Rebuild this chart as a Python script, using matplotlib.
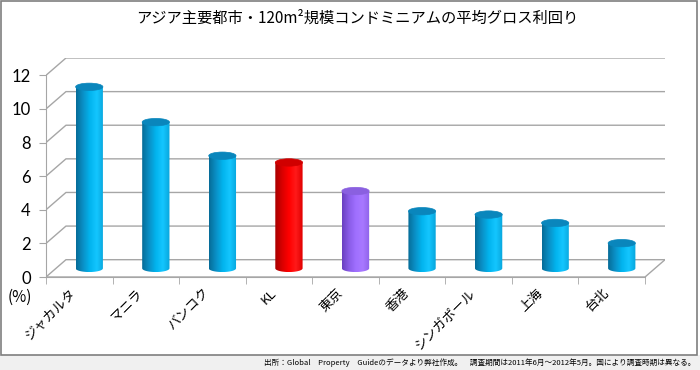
import numpy as np
import matplotlib
matplotlib.use('Agg')
import matplotlib.pyplot as plt
from matplotlib.patches import Ellipse, PathPatch, Rectangle
from matplotlib.path import Path
from matplotlib.colors import to_rgb

# CJK font first, DejaVu as fallback
plt.rcParams['font.family'] = ['Noto Sans CJK JP', 'DejaVu Sans']

# data (%)
cities = ['ジャカルタ', 'マニラ', 'バンコク', 'KL', '東京', '香港', 'シンガポール', '上海', '台北']
yields = [10.8, 8.7, 6.7, 6.3, 4.6, 3.4, 3.2, 2.7, 1.5]
bar_kind = ['blue', 'blue', 'blue', 'red', 'purple', 'blue', 'blue', 'blue', 'blue']
yticks = [0, 2, 4, 6, 8, 10, 12]

title = 'アジア主要都市・120m²規模コンドミニアムの平均グロス利回り'
footer = '出所：Global　Property　Guideのデータより弊社作成。　調査期間は2011年6月～2012年5月。国により調査時期は異なる。'

# left->right colour stops of each cylinder, plus its top cap colour
gradients = {
    'blue': (['#066c98', '#0a90c6', '#02b4ee', '#14c6ff', '#08a6dc'], '#0a86bc'),
    'red': (['#a80000', '#d80000', '#ff0000', '#ff1a1a', '#e00000'], '#d00000'),
    'purple': (['#6a40c0', '#8a5ce8', '#a070ff', '#a878ff', '#8e62ea'], '#8a60e0'),
}

dx, dy = 0.3, 1.03      # depth offset of the back wall (data units)
bw, eh = 0.41, 0.44     # cylinder width and cap ellipse height
grid_c = '#a6a6a6'

fig = plt.figure(figsize=(7, 3.7), dpi=100)
ax = fig.add_axes([46 / 700, 93 / 370, 619 / 700, 219 / 370])
n = len(cities)
ax.patch.set_visible(False)

# back wall grid + side diagonals
for v in yticks:
    ax.plot([0, dx, n + dx], [v, v + dy, v + dy], color=grid_c, lw=1, zorder=1)
ax.plot([0, n, n + dx], [0, 0, dy], color=grid_c, lw=1, zorder=1)

# cylinders
for i, (v, k) in enumerate(zip(yields, bar_kind)):
    cx = i + 0.5 + dx / 2
    y0 = dy / 2
    top = y0 + v
    x_l, x_r = cx - bw / 2, cx + bw / 2
    t = np.linspace(np.pi, 2 * np.pi, 40)
    verts = [(x_l, top)] + list(zip(cx + bw / 2 * np.cos(t), y0 + eh / 2 * np.sin(t))) + [(x_r, top), (x_l, top)]
    body = PathPatch(Path(verts), facecolor='none', edgecolor='none')
    ax.add_patch(body)
    stops, cap = gradients[k]
    rgb = np.array([to_rgb(c) for c in stops])
    xs = np.linspace(0, 1, 64)
    pos = np.linspace(0, 1, len(stops))
    grad = np.stack([np.interp(xs, pos, rgb[:, j]) for j in range(3)], axis=-1)[None, :, :]
    im = ax.imshow(grad, extent=[x_l, x_r, y0 - eh / 2, top], aspect='auto',
                   interpolation='bilinear', zorder=3)
    im.set_clip_path(body)
    ax.add_patch(Ellipse((cx, top), bw, eh, facecolor=cap, edgecolor=cap, lw=0.5, zorder=4))

ax.set_xlim(0, n + dx)
ax.set_ylim(0, yticks[-1] + dy)

# axes
for s in ['top', 'right']:
    ax.spines[s].set_visible(False)
ax.spines['left'].set_bounds(0, yticks[-1])
ax.spines['bottom'].set_bounds(0, n)
ax.spines['left'].set_color(grid_c)
ax.spines['bottom'].set_color(grid_c)
ax.set_yticks(yticks)
ax.set_yticklabels([str(v) for v in yticks], fontsize=12, family=['Lato', 'DejaVu Sans'])
ax.tick_params(axis='y', length=5, color=grid_c, pad=6)
ax.set_xticks([i + 0.5 for i in range(n)])
ax.set_xticklabels(cities, rotation=45, ha='right', va='top', fontsize=9.5)
ax.set_xticks(range(n + 1), minor=True)
ax.tick_params(axis='x', which='major', length=0, pad=7)
ax.tick_params(axis='x', which='minor', length=5, color=grid_c)

fig.text(8 / 700, 1 - 297 / 370, '(%)', fontsize=11, ha='left', va='center')
fig.text(357 / 700, 1 - 18 / 370, title, fontsize=11, ha='center', va='center')

# outer frame and footer band
fig.patches.append(Rectangle((0, 0), 1, 15 / 370, transform=fig.transFigure,
                             facecolor='#f0f0f0', edgecolor='none', zorder=0))
fig.patches.append(Rectangle((1 / 700, 15 / 370), 696 / 700, 354 / 370, transform=fig.transFigure,
                             facecolor='none', edgecolor='#7f7f7f', lw=1.2, zorder=5))
fig.text(695 / 700, 7.5 / 370, footer, fontsize=5.5, ha='right', va='center')

fig.savefig('out.png', dpi=100)
